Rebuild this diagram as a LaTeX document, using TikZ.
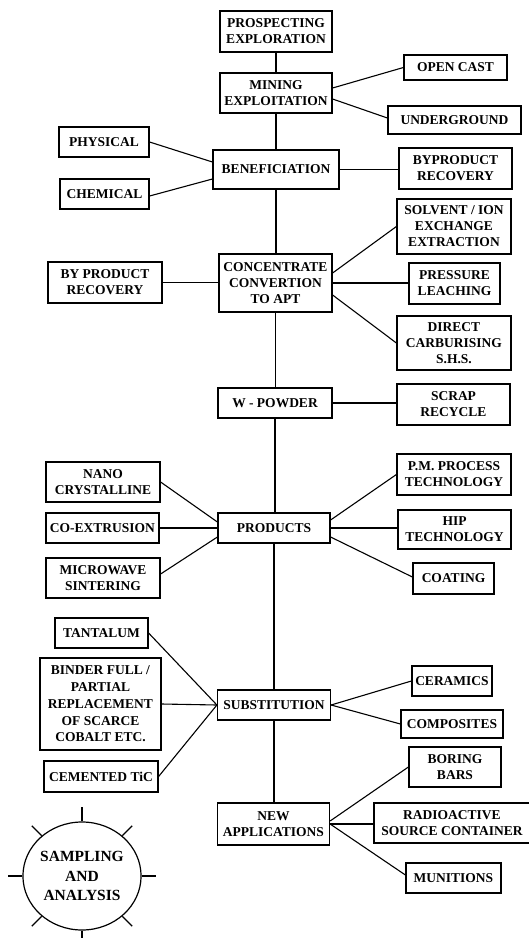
\documentclass[tikz,border=0pt]{standalone}
\usepackage{fontspec}
\setmainfont{Liberation Serif}
\usetikzlibrary{shapes.geometric,calc}

\begin{document}
\begin{tikzpicture}[x=1pt,y=-1pt,
  bx/.style={draw, line width=1.2pt, inner sep=0pt, align=center,
             font=\fontsize{13.5}{16}\selectfont\bfseries},
  ln/.style={line width=1.1pt}]
\useasboundingbox (0,0) rectangle (529,938);

% main column
\node[bx, minimum width=112pt, minimum height=41pt] (pros)   at (276,31.5) {PROSPECTING\\EXPLORATION};
\node[bx, minimum width=112pt, minimum height=40pt] (mine)   at (276,93)   {MINING\\EXPLOITATION};
\node[bx, minimum width=126pt, minimum height=39pt] (benef)  at (276,169.5){BENEFICIATION};
\node[bx, minimum width=113pt, minimum height=58pt] (conc)   at (275.5,283){CONCENTRATE\\CONVERTION\\TO APT};
\node[bx, minimum width=114pt, minimum height=30pt] (wpow)   at (275,403)  {W - POWDER};
\node[bx, minimum width=112pt, minimum height=30pt] (prod)   at (274,528)  {PRODUCTS};
\node[bx, minimum width=113pt, minimum height=30pt] (subst)  at (274,705)  {SUBSTITUTION};
\node[bx, minimum width=112pt, minimum height=42pt] (newapp) at (273.5,824){NEW\\APPLICATIONS};

% left branches
\node[bx, minimum width=90pt,  minimum height=30pt] (phys)   at (104,142)   {PHYSICAL};
\node[bx, minimum width=89pt,  minimum height=30pt] (chem)   at (104.5,194) {CHEMICAL};
\node[bx, minimum width=114pt, minimum height=41pt] (byp2)   at (105,282.5) {BY PRODUCT\\RECOVERY};
\node[bx, minimum width=114pt, minimum height=40pt] (nano)   at (103,482)   {NANO\\CRYSTALLINE};
\node[bx, minimum width=113pt, minimum height=30pt] (coex)   at (102.5,528) {CO-EXTRUSION};
\node[bx, minimum width=114pt, minimum height=40pt] (micro)  at (103,578)   {MICROWAVE\\SINTERING};
\node[bx, minimum width=93pt,  minimum height=30pt] (tant)   at (101.5,633) {TANTALUM};
\node[bx, minimum width=121pt, minimum height=92pt, font=\fontsize{13.5}{16.7}\selectfont\bfseries]
      (binder) at (100.5,704) {BINDER FULL /\\PARTIAL\\REPLACEMENT\\OF SCARCE\\COBALT ETC.};
\node[bx, minimum width=114pt, minimum height=31pt] (cem)    at (101,776.5) {CEMENTED TiC};

% right branches
\node[bx, minimum width=103pt, minimum height=25pt] (open)   at (455.5,67.5) {OPEN CAST};
\node[bx, minimum width=133pt, minimum height=28pt] (under)  at (454.5,120)  {UNDERGROUND};
\node[bx, minimum width=113pt, minimum height=41pt] (byp1)   at (455.5,168.5){BYPRODUCT\\RECOVERY};
\node[bx, minimum width=114pt, minimum height=55pt] (solv)   at (454,226.5)  {SOLVENT / ION\\EXCHANGE\\EXTRACTION};
\node[bx, minimum width=91pt,  minimum height=41pt] (press)  at (454.5,283.5){PRESSURE\\LEACHING};
\node[bx, minimum width=114pt, minimum height=54pt] (direct) at (454,343)    {DIRECT\\CARBURISING\\S.H.S.};
\node[bx, minimum width=113pt, minimum height=41pt] (scrap)  at (453.5,404.5){SCRAP\\RECYCLE};
\node[bx, minimum width=114pt, minimum height=41pt] (pm)     at (454,474.5)  {P.M. PROCESS\\TECHNOLOGY};
\node[bx, minimum width=113pt, minimum height=39pt] (hip)    at (454.5,529.5){HIP\\TECHNOLOGY};
\node[bx, minimum width=81pt,  minimum height=31pt] (coat)   at (453.5,578.5){COATING};
\node[bx, minimum width=80pt,  minimum height=30pt] (ceram)  at (452,681)    {CERAMICS};
\node[bx, minimum width=102pt, minimum height=28pt] (compos) at (452,724)    {COMPOSITES};
\node[bx, minimum width=92pt,  minimum height=40pt] (boring) at (455,767)    {BORING\\BARS};
\node[bx, minimum width=156pt, minimum height=40pt] (radio)  at (452,823)    {RADIOACTIVE\\SOURCE CONTAINER};
\node[bx, minimum width=95pt,  minimum height=30pt] (mun)    at (453.5,878)  {MUNITIONS};

% sampling wheel
\node[draw, ellipse, line width=1.2pt, inner sep=0pt, align=center,
      minimum width=118pt, minimum height=108pt,
      font=\fontsize{15.5}{19.5}\selectfont\bfseries] (samp) at (82,876) {SAMPLING\\AND\\ANALYSIS};
\foreach \a in {0,45,...,315}
  \draw[ln] (samp.\a) -- ($(samp.\a)+(\a:14pt)$);

% main column links
\draw[ln] (pros.south) -- (mine.north);
\draw[ln] (mine.south) -- (benef.north);
\draw[ln] (benef.south) -- (benef.south |- conc.north);
\draw[ln] (conc.south) -- (conc.south |- wpow.north);
\draw[ln] (wpow.south) -- (wpow.south |- prod.north);
\draw[ln] (prod.south) -- (prod.south |- subst.north);
\draw[ln] (subst.south) -- (subst.south |- newapp.north);

% branch links
\draw[ln] ([yshift=5pt]mine.east) -- (open.west);
\draw[ln] ([yshift=-6pt]mine.east) -- ([yshift=2pt]under.west);
\draw[ln] (phys.east) -- ([yshift=7.5pt]benef.west);
\draw[ln] ([yshift=-2pt]chem.east) -- ([yshift=-9.5pt]benef.west);
\draw[ln] (benef.east) -- (benef.east -| byp1.west);
\draw[ln] ([yshift=10pt]conc.east) -- (solv.west);
\draw[ln] (conc.east) -- (conc.east -| press.west);
\draw[ln] ([yshift=-12pt]conc.east) -- (direct.west);
\draw[ln] (byp2.east) -- (byp2.east -| conc.west);
\draw[ln] (wpow.east) -- (wpow.east -| scrap.west);
\draw[ln] ([yshift=8pt]prod.east) -- (pm.west);
\draw[ln] (prod.east) -- (prod.east -| hip.west);
\draw[ln] ([yshift=-9pt]prod.east) -- ([yshift=1.5pt]coat.west);
\draw[ln] (nano.east) -- ([yshift=6pt]prod.west);
\draw[ln] (coex.east) -- (coex.east -| prod.west);
\draw[ln] ([yshift=4pt]micro.east) -- ([yshift=-9pt]prod.west);
\draw[ln] (tant.east) -- (subst.west);
\draw[ln] (binder.east) -- (subst.west);
\draw[ln] (cem.east) -- (subst.west);
\draw[ln] (subst.east) -- (ceram.west);
\draw[ln] (subst.east) -- (compos.west);
\draw[ln] ([yshift=3pt]newapp.east) -- (boring.west);
\draw[ln] (newapp.east) -- (newapp.east -| radio.west);
\draw[ln] (newapp.east) -- ([yshift=3pt]mun.west);
\end{tikzpicture}
\end{document}
